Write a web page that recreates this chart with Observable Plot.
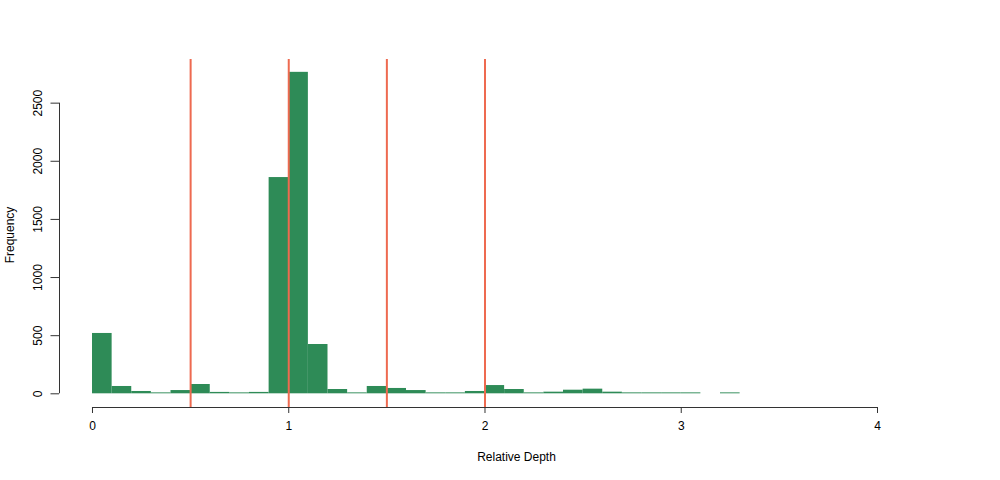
<!DOCTYPE html>
<html>
<head>
<meta charset="utf-8">
<script src="https://cdn.jsdelivr.net/npm/d3@7"></script>
<script src="https://cdn.jsdelivr.net/npm/@observablehq/plot@0.6"></script>
<style>
  html, body { margin: 0; padding: 0; background: #fff; }
  #chart { width: 1000px; height: 480px; }
</style>
</head>
<body>
<div id="chart"></div>
<script>
// Histogram bins (left edges, width 0.1) and counts
const binStarts = [0.0,0.1,0.2,0.3,0.4,0.5,0.6,0.7,0.8,0.9,1.0,1.1,1.2,1.3,1.4,1.5,1.6,1.7,1.8,1.9,2.0,2.1,2.2,2.3,2.4,2.5,2.6,2.7,2.8,2.9,3.0,3.1,3.2];
const counts    = [519,63,20,8,28,80,12,8,12,1860,2765,424,37,8,63,46,28,8,8,20,71,37,8,14,31,40,14,8,8,8,8,0,8];
const binWidth = 0.1;
const cutoffs = [0.5, 1, 1.5, 2];
const xTicks = [0, 1, 2, 3, 4];
const yTicks = [0, 500, 1000, 1500, 2000, 2500];
const xLabel = "Relative Depth";
const yLabel = "Frequency";

const bins = binStarts.map((s, i) => ({x1: s, x2: +(s + binWidth).toFixed(2), count: counts[i]})).filter(d => d.count > 0);

const xDomain = [-0.16815, 4];
const yDomain = [-117.8, 2875.4];
const font = "'Liberation Sans', Arial, Helvetica, sans-serif";

const chart = Plot.plot({
  width: 1000,
  height: 480,
  marginLeft: 59,
  marginRight: 123,
  marginTop: 59,
  marginBottom: 73,
  style: {fontFamily: font, fontSize: "12px", background: "#fff", color: "#000"},
  x: {type: "linear", domain: xDomain, axis: null},
  y: {type: "linear", domain: yDomain, axis: null},
  marks: [
    Plot.rectY(bins, {x1: "x1", x2: "x2", y1: 0, y2: "count", fill: "#2E8B57"}),
    Plot.ruleX(cutoffs, {stroke: "#EE6A50", strokeWidth: 2}),
    // x axis
    Plot.ruleY([yDomain[0]], {x1: xTicks[0], x2: xTicks[xTicks.length - 1], stroke: "#333", strokeWidth: 1}),
    Plot.axisX(xTicks, {anchor: "bottom", tickSize: 6, tickPadding: 8, tickFormat: d => String(d), fontSize: 12, stroke: "#333", label: null}),
    // y axis
    Plot.ruleX([xDomain[0]], {y1: yTicks[0], y2: yTicks[yTicks.length - 1], stroke: "#333", strokeWidth: 1}),
    Plot.axisY(yTicks, {anchor: "left", tickSize: 8.5, tickFormat: () => "", stroke: "#333", label: null}),
    Plot.text(yTicks, {y: d => d, text: d => String(d), frameAnchor: "left", dx: -21.5, rotate: -90, textAnchor: "middle", lineAnchor: "middle", fontSize: 12, fill: "#000"}),
    // axis titles
    Plot.text([xLabel], {frameAnchor: "bottom", dy: 50, dx: 516 - (59 + 877) / 2, text: d => d, lineAnchor: "middle", fontSize: 12, fill: "#000"}),
    Plot.text([yLabel], {frameAnchor: "left", dx: -49, dy: 234.5 - 233, text: d => d, rotate: -90, textAnchor: "middle", lineAnchor: "middle", fontSize: 12, fill: "#000"})
  ]
});
document.getElementById("chart").appendChild(chart);
</script>
</body>
</html>
